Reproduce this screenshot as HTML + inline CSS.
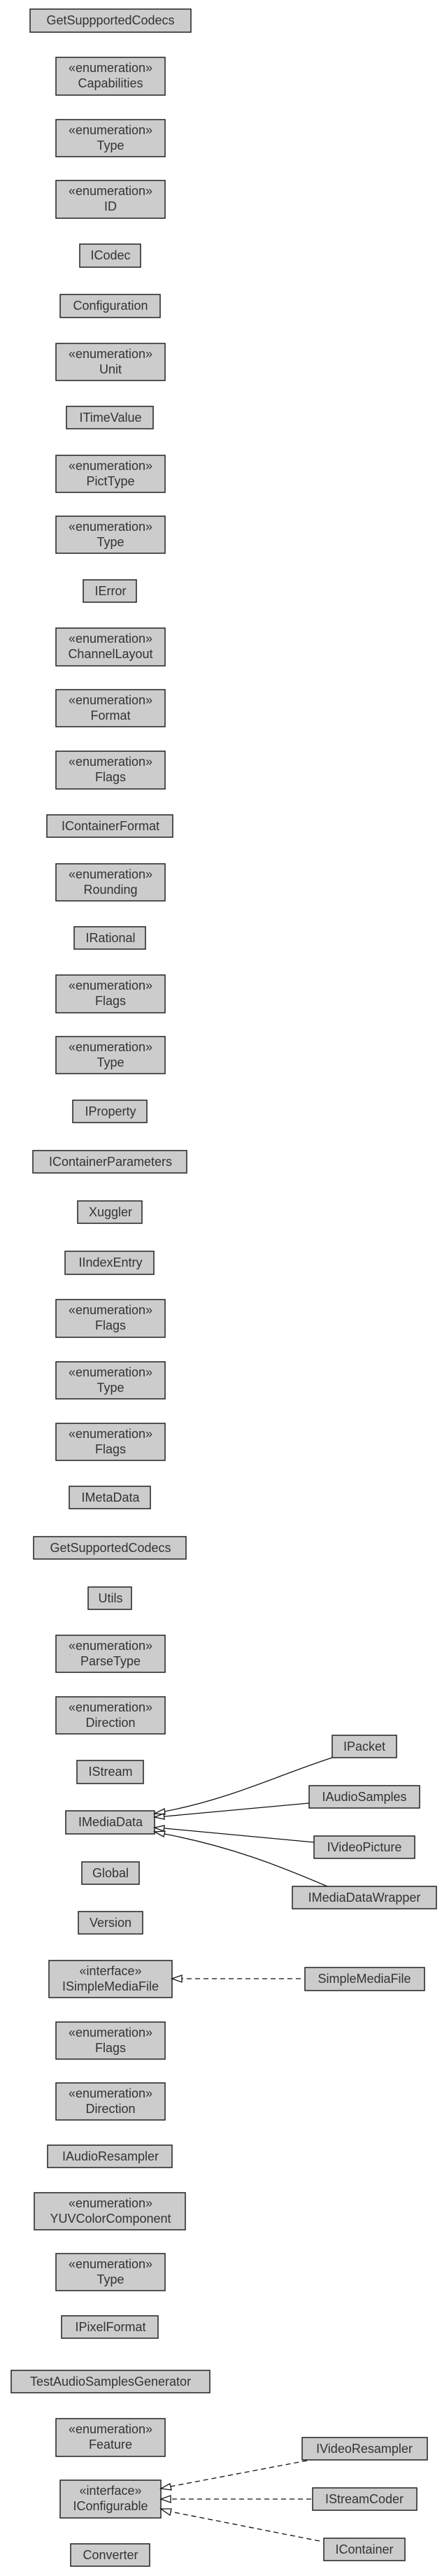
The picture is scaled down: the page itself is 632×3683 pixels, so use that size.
<!DOCTYPE html>
<html><head><meta charset="utf-8"><style>
html,body{margin:0;padding:0;background:#fff;}
svg{display:block;}
text{font-family:"Liberation Sans",Arial,sans-serif;font-size:18px;fill:#333;text-anchor:middle;}
rect{fill:#ccc;stroke:#222;stroke-width:1.5;}
.e{fill:none;stroke:#111;stroke-width:1.3;}
.d{fill:none;stroke:#111;stroke-width:1.3;stroke-dasharray:7,5;}
.a{fill:#fff;stroke:#111;stroke-width:1.3;}
</style></head><body>
<svg width="632" height="3683" viewBox="0 0 632 3683" xmlns="http://www.w3.org/2000/svg">
<g>
<rect x="43" y="13" width="230" height="33"/><text x="158" y="35">GetSuppportedCodecs</text>
<rect x="80" y="82" width="156" height="54"/><text x="158" y="103">«enumeration»</text><text x="158" y="125">Capabilities</text>
<rect x="80" y="171" width="156" height="53"/><text x="158" y="192">«enumeration»</text><text x="158" y="214">Type</text>
<rect x="80" y="258" width="156" height="54"/><text x="158" y="279">«enumeration»</text><text x="158" y="301">ID</text>
<rect x="114" y="349" width="87" height="33"/><text x="158" y="371">ICodec</text>
<rect x="86" y="421" width="143" height="33"/><text x="158" y="443">Configuration</text>
<rect x="80" y="491" width="156" height="53"/><text x="158" y="512">«enumeration»</text><text x="158" y="534">Unit</text>
<rect x="95" y="581" width="124" height="32"/><text x="158" y="603">ITimeValue</text>
<rect x="80" y="651" width="156" height="53"/><text x="158" y="672">«enumeration»</text><text x="158" y="694">PictType</text>
<rect x="80" y="738" width="156" height="53"/><text x="158" y="759">«enumeration»</text><text x="158" y="781">Type</text>
<rect x="119" y="829" width="76" height="32"/><text x="158" y="851">IError</text>
<rect x="80" y="898" width="156" height="54"/><text x="158" y="919">«enumeration»</text><text x="158" y="941">ChannelLayout</text>
<rect x="80" y="986" width="156" height="53"/><text x="158" y="1007">«enumeration»</text><text x="158" y="1029">Format</text>
<rect x="80" y="1074" width="156" height="54"/><text x="158" y="1095">«enumeration»</text><text x="158" y="1117">Flags</text>
<rect x="67" y="1165" width="180" height="32"/><text x="158" y="1187">IContainerFormat</text>
<rect x="80" y="1235" width="156" height="53"/><text x="158" y="1256">«enumeration»</text><text x="158" y="1278">Rounding</text>
<rect x="106" y="1325" width="102" height="32"/><text x="158" y="1347">IRational</text>
<rect x="80" y="1394" width="156" height="54"/><text x="158" y="1415">«enumeration»</text><text x="158" y="1437">Flags</text>
<rect x="80" y="1482" width="156" height="53"/><text x="158" y="1503">«enumeration»</text><text x="158" y="1525">Type</text>
<rect x="104" y="1573" width="106" height="32"/><text x="158" y="1595">IProperty</text>
<rect x="47" y="1645" width="220" height="32"/><text x="158" y="1667">IContainerParameters</text>
<rect x="111" y="1717" width="92" height="32"/><text x="158" y="1739">Xuggler</text>
<rect x="93" y="1789" width="127" height="33"/><text x="158" y="1811">IIndexEntry</text>
<rect x="80" y="1858" width="156" height="54"/><text x="158" y="1879">«enumeration»</text><text x="158" y="1901">Flags</text>
<rect x="80" y="1947" width="156" height="53"/><text x="158" y="1968">«enumeration»</text><text x="158" y="1990">Type</text>
<rect x="80" y="2035" width="156" height="53"/><text x="158" y="2056">«enumeration»</text><text x="158" y="2078">Flags</text>
<rect x="99" y="2125" width="116" height="32"/><text x="158" y="2147">IMetaData</text>
<rect x="48" y="2197" width="218" height="32"/><text x="158" y="2219">GetSupportedCodecs</text>
<rect x="126" y="2269" width="62" height="32"/><text x="158" y="2291">Utils</text>
<rect x="80" y="2338" width="156" height="53"/><text x="158" y="2359">«enumeration»</text><text x="158" y="2381">ParseType</text>
<rect x="80" y="2426" width="156" height="53"/><text x="158" y="2447">«enumeration»</text><text x="158" y="2469">Direction</text>
<rect x="110" y="2517" width="95" height="33"/><text x="158" y="2539">IStream</text>
<rect x="94" y="2589" width="127" height="33"/><text x="158" y="2611">IMediaData</text>
<rect x="117" y="2662" width="82" height="32"/><text x="158" y="2684">Global</text>
<rect x="112" y="2733" width="92" height="32"/><text x="158" y="2755">Version</text>
<rect x="70" y="2803" width="176" height="53"/><text x="158" y="2824">«interface»</text><text x="158" y="2846">ISimpleMediaFile</text>
<rect x="80" y="2891" width="156" height="53"/><text x="158" y="2912">«enumeration»</text><text x="158" y="2934">Flags</text>
<rect x="80" y="2978" width="156" height="53"/><text x="158" y="2999">«enumeration»</text><text x="158" y="3021">Direction</text>
<rect x="68" y="3067" width="178" height="32"/><text x="158" y="3089">IAudioResampler</text>
<rect x="49" y="3135" width="216" height="53"/><text x="158" y="3156">«enumeration»</text><text x="158" y="3178">YUVColorComponent</text>
<rect x="80" y="3222" width="156" height="53"/><text x="158" y="3243">«enumeration»</text><text x="158" y="3265">Type</text>
<rect x="88" y="3311" width="138" height="32"/><text x="158" y="3333">IPixelFormat</text>
<rect x="16" y="3389" width="284" height="32"/><text x="158" y="3411">TestAudioSamplesGenerator</text>
<rect x="80" y="3458" width="156" height="54"/><text x="158" y="3479">«enumeration»</text><text x="158" y="3501">Feature</text>
<rect x="86" y="3546" width="144" height="54"/><text x="158" y="3567">«interface»</text><text x="158" y="3589">IConfigurable</text>
<rect x="101" y="3637" width="113" height="32"/><text x="158" y="3659">Converter</text>
<rect x="475" y="2481" width="92" height="32"/><text x="521" y="2503">IPacket</text>
<rect x="442" y="2553" width="158" height="32"/><text x="521" y="2575">IAudioSamples</text>
<rect x="449" y="2625" width="144" height="32"/><text x="521" y="2647">IVideoPicture</text>
<rect x="418" y="2697" width="206" height="32"/><text x="521" y="2719">IMediaDataWrapper</text>
<rect x="436" y="2813" width="171" height="33"/><text x="521" y="2835">SimpleMediaFile</text>
<rect x="432" y="3485" width="179" height="32"/><text x="521" y="3507">IVideoResampler</text>
<rect x="447" y="3557" width="149" height="32"/><text x="521" y="3579">IStreamCoder</text>
<rect x="463" y="3629" width="116" height="32"/><text x="521" y="3651">IContainer</text>
</g>
<path class="e" d="M475,2513 C400,2537 330,2572 235,2590"/>
<polygon class="a" points="221,2593 235,2586 236,2594"/>
<path class="e" d="M442,2578 L235,2597"/>
<polygon class="a" points="221,2598 234,2593 235,2601"/>
<path class="e" d="M449,2634 L235,2614"/>
<polygon class="a" points="221,2613 235,2610 234,2618"/>
<path class="e" d="M468,2697 C400,2668 330,2640 235,2622"/>
<polygon class="a" points="221,2619 236,2618 234,2626"/>
<path class="d" d="M430,2829 L260,2829"/>
<polygon class="a" points="246,2829 260,2824 260,2834"/>
<path class="d" d="M439,3518 L244,3555"/>
<polygon class="a" points="230,3558 243,3551 245,3560"/>
<path class="d" d="M445,3573 L244,3573"/>
<polygon class="a" points="230,3573 244,3568 244,3578"/>
<path class="d" d="M457,3633 L244,3591"/>
<polygon class="a" points="230,3587 245,3587 243,3596"/>
</svg>
</body></html>
